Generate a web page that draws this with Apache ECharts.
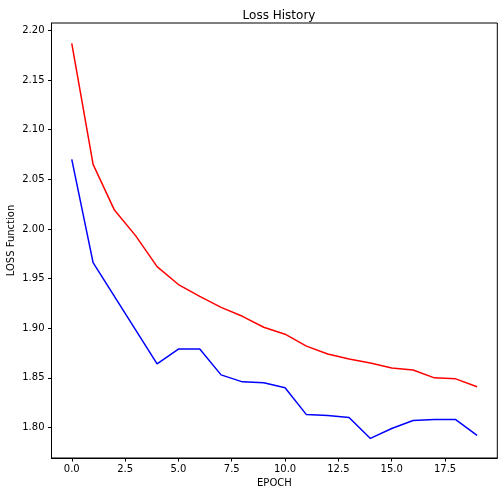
<!DOCTYPE html>
<html>
<head>
<meta charset="utf-8">
<script src="https://cdn.jsdelivr.net/npm/echarts@6/dist/echarts.min.js"></script>
<style>
  html, body { margin: 0; padding: 0; background: #fff; }
  #chart { width: 504px; height: 496px; }
</style>
</head>
<body>
<div id="chart"></div>
<script>
// loss values per epoch
var epochs = [0, 1, 2, 3, 4, 5, 6, 7, 8, 9, 10, 11, 12, 13, 14, 15, 16, 17, 18, 19]
var redLoss = [2.187, 2.065, 2.019, 1.993, 1.962, 1.944, 1.932, 1.921, 1.912, 1.901,
  1.894, 1.882, 1.874, 1.869, 1.865, 1.860, 1.858, 1.850, 1.849, 1.841]
var blueLoss = [2.070, 1.966, 1.932, 1.898, 1.864, 1.879, 1.879, 1.853, 1.846, 1.845,
  1.840, 1.813, 1.812, 1.810, 1.789, 1.799, 1.807, 1.808, 1.808, 1.792]
var xTicks = [0, 2.5, 5, 7.5, 10, 12.5, 15, 17.5]
var yTicks = [1.80, 1.85, 1.90, 1.95, 2.00, 2.05, 2.10, 2.15, 2.20]

function pairs(vals) {
  return epochs.map(function(e, i) { return [e, vals[i]] })
}

var font = 'DejaVu Sans'
var chart = echarts.init(document.getElementById('chart'))
chart.setOption({
  animation: false,
  backgroundColor: '#fff',
  title: {
    text: 'Loss History',
    left: 274,
    top: 5,
    textAlign: 'center',
    textStyle: { fontFamily: font, fontSize: 12, fontWeight: 'normal', color: '#000' }
  },
  grid: {
    left: 51.5,
    right: 6.7,
    top: 23,
    bottom: 38,
    outerBoundsMode: 'none',
    containLabel: false,
    show: true,
    borderColor: '#000',
    borderWidth: 1
  },
  xAxis: {
    type: 'value',
    min: -0.95,
    max: 19.95,
    name: 'EPOCH',
    nameLocation: 'middle',
    nameGap: 20,
    nameMoveOverlap: false,
    nameTextStyle: { fontFamily: font, fontSize: 10, color: '#000' },
    axisLine: { show: true, onZero: false, lineStyle: { color: '#000', width: 1 } },
    axisTick: { show: true, inside: false, length: 3.5, customValues: xTicks, lineStyle: { color: '#000' } },
    axisLabel: {
      customValues: xTicks,
      margin: 6,
      fontFamily: font,
      fontSize: 10,
      color: '#000',
      formatter: function(v) { return v.toFixed(1) }
    },
    splitLine: { show: false }
  },
  yAxis: {
    type: 'value',
    min: 1.7693,
    max: 2.2074,
    name: 'LOSS Function',
    nameLocation: 'middle',
    nameGap: 35,
    nameMoveOverlap: false,
    nameTextStyle: { fontFamily: font, fontSize: 10, color: '#000' },
    axisLine: { show: true, onZero: false, lineStyle: { color: '#000', width: 1 } },
    axisTick: { show: true, inside: false, length: 3.5, customValues: yTicks, lineStyle: { color: '#000' } },
    axisLabel: {
      customValues: yTicks,
      margin: 7,
      fontFamily: font,
      fontSize: 10,
      color: '#000',
      formatter: function(v) { return v.toFixed(2) }
    },
    splitLine: { show: false }
  },
  series: [
    {
      type: 'line',
      data: pairs(redLoss),
      showSymbol: false,
      symbol: 'none',
      lineStyle: { color: '#ff0000', width: 1.5 },
      itemStyle: { color: '#ff0000' }
    },
    {
      type: 'line',
      data: pairs(blueLoss),
      showSymbol: false,
      symbol: 'none',
      lineStyle: { color: '#0000ff', width: 1.5 },
      itemStyle: { color: '#0000ff' }
    }
  ]
})
</script>
</body>
</html>
